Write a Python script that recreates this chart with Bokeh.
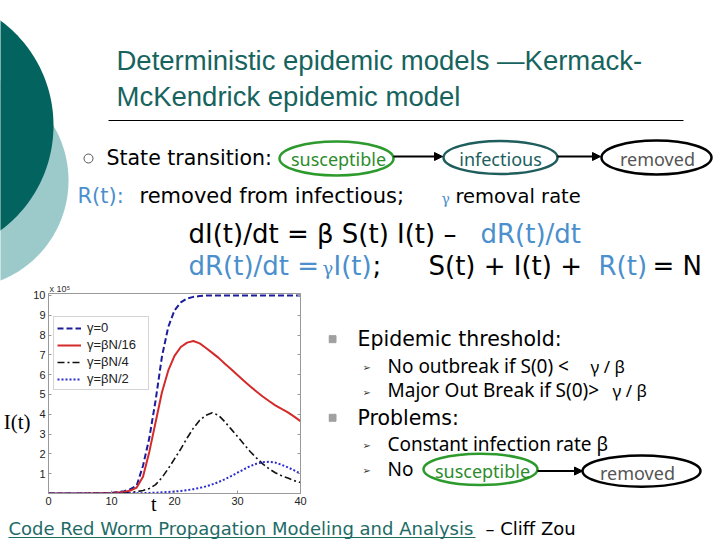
import numpy as np
from bokeh.plotting import figure
from bokeh.models import Range1d, FixedTicker, LinearAxis, Arrow, NormalHead
from bokeh.layouts import column, row
from bokeh.core.properties import value
from bokeh.embed import file_html
from bokeh.resources import INLINE

# ---------------- chart data ----------------
t = [0, 5, 10, 12, 13, 14, 15, 16, 17, 18, 19, 20, 21, 22, 23, 24, 25, 26, 27, 28,
     29, 30, 31, 32, 33, 34, 35, 36, 37, 38, 39, 40]
i_gamma0 = [0.0, 0.0, 0.03, 0.12, 0.22, 0.4, 1.4, 2.8, 4.7, 6.9, 8.4, 9.25, 9.65, 9.85,
            9.93, 9.97, 10.0, 10.0, 10.0, 10.0, 10.0, 10.0, 10.0, 10.0, 10.0, 10.0, 10.0,
            10.0, 10.0, 10.0, 10.0, 10.0]
i_gamma16 = [0.0, 0.0, 0.02, 0.08, 0.15, 0.3, 0.85, 2.1, 3.6, 5.1, 6.2, 6.95, 7.4, 7.62,
             7.7, 7.58, 7.35, 7.1, 6.85, 6.55, 6.27, 5.98, 5.7, 5.42, 5.15, 4.9, 4.67,
             4.45, 4.27, 4.1, 3.88, 3.65]
i_gamma4 = [0.0, 0.0, 0.0, 0.02, 0.05, 0.09, 0.15, 0.25, 0.45, 0.8, 1.25, 1.75, 2.25, 2.8,
            3.3, 3.7, 3.95, 4.08, 3.95, 3.62, 3.25, 2.88, 2.5, 2.12, 1.8, 1.5, 1.25, 1.05,
            0.9, 0.78, 0.65, 0.55]
i_gamma2 = [0.0, 0.0, 0.0, 0.0, 0.01, 0.01, 0.02, 0.03, 0.04, 0.06, 0.08, 0.1, 0.13, 0.17,
            0.22, 0.28, 0.36, 0.46, 0.58, 0.72, 0.88, 1.05, 1.22, 1.38, 1.5, 1.58, 1.6,
            1.56, 1.45, 1.32, 1.17, 1.0]
series_labels = ["\u03b3=0", "\u03b3=\u03b2N/16", "\u03b3=\u03b2N/4", "\u03b3=\u03b2N/2"]
x_ticks = [0, 10, 20, 30, 40]
y_ticks = [1, 2, 3, 4, 5, 6, 7, 8, 9, 10]
x_title = "t"
y_title = "I(t)"
scale_note = "x 10\u2075"

BLUE_TXT = "#4b8fcc"
TEAL = "#17635e"


def txt(p, x, y, s, size, color="black", font="DejaVu Sans", align="left"):
    # y is the wanted baseline; the glyph is drawn around the middle of the line
    px = float(size.replace("px", ""))
    p.text(x=[x], y=[y - 0.34 * px], text=[s], text_font=value(font),
           text_font_size=size, text_color=color, text_align=align,
           text_baseline="alphabetic")


def blank(x0, x1, y0, y1):
    p = figure(width=x1 - x0, height=y1 - y0, x_range=Range1d(x0, x1),
               y_range=Range1d(y1, y0), min_border=0, toolbar_location=None,
               output_backend="svg", x_axis_location=None, y_axis_location=None,
               tools="")
    p.grid.visible = False
    p.outline_line_color = None
    p.background_fill_color = "white"
    p.border_fill_color = "white"
    return p


def arrow(p, x0, y0, x1, y1):
    p.add_layout(Arrow(end=NormalHead(size=8, fill_color="black", line_color="black"),
                       x_start=x0, y_start=y0, x_end=x1, y_end=y1,
                       line_color="black", line_width=2))


# ---------------- top part of the slide ----------------
top = blank(0, 720, 0, 281)
ang = np.linspace(0, 2 * np.pi, 240)
top.patch(-39.5 + 107.5 * np.cos(ang), 180 + 107.5 * np.sin(ang), color="#9ccaca",
          line_color=None)
top.patch(-77.5 + 130.5 * np.cos(ang), 125 + 130.5 * np.sin(ang), color="#03635f",
          line_color=None)
txt(top, 116, 69, "Deterministic epidemic models \u2014Kermack-", "27.5px", TEAL,
    "Liberation Sans")
txt(top, 116, 105, "McKendrick epidemic model", "27.5px", TEAL, "Liberation Sans")
top.segment(x0=[108], y0=[120], x1=[683], y1=[120], line_color="black", line_width=1)

top.scatter(x=[88], y=[158], marker="circle", size=9, fill_color=None,
            line_color="#555555", line_width=1)
txt(top, 106, 164, "State transition:", "20.5px")
top.ellipse(x=[336], y=[158], width=[114], height=[34], fill_color=None,
            line_color="#2c9a2c", line_width=2.5)
txt(top, 338, 165, "susceptible", "18px", "#2c8c2c", "Noto Sans", "center")
top.ellipse(x=[500], y=[157], width=[114], height=[33], fill_color=None,
            line_color="#205e5e", line_width=2.5)
txt(top, 500, 165, "infectious", "18px", "#205e5e", "Noto Sans", "center")
top.ellipse(x=[656], y=[157], width=[110], height=[34], fill_color=None,
            line_color="black", line_width=2.5)
txt(top, 657, 165, "removed", "18px", "#555555", "Noto Sans", "center")
arrow(top, 393, 156, 442, 156)
arrow(top, 557, 156, 600, 156)

txt(top, 77, 203, "R(t):", "21px", BLUE_TXT)
txt(top, 139, 203, "removed from infectious;", "21px")
txt(top, 441, 203, "\u03b3", "14px", BLUE_TXT, "DejaVu Serif")
txt(top, 455, 203, "removal rate", "19.5px")

txt(top, 188, 242, "dI(t)/dt = \u03b2 S(t) I(t) \u2013", "26px")
txt(top, 480, 242, "dR(t)/dt", "26px", BLUE_TXT)
txt(top, 188, 274, "dR(t)/dt =", "26px", BLUE_TXT)
txt(top, 322, 274, "\u03b3", "18px", BLUE_TXT, "DejaVu Serif")
txt(top, 333, 274, "I(t)", "26px", BLUE_TXT)
txt(top, 372, 274, ";", "26px")
txt(top, 428, 274, "S(t) + I(t) +", "26px")
txt(top, 598, 274, "R(t)", "26px", BLUE_TXT)
txt(top, 652, 274, "= N", "26px")

# ---------------- chart ----------------
chart = figure(frame_width=252, frame_height=200, x_range=Range1d(0, 40),
               y_range=Range1d(0, 10.1), min_border_left=48, min_border_right=28,
               min_border_top=9, min_border_bottom=24, toolbar_location=None,
               output_backend="svg", tools="")
chart.grid.visible = False
chart.outline_line_color = "#999999"
chart.background_fill_color = "white"
chart.border_fill_color = "white"

chart.line(t, i_gamma0, line_color="#1c1c9c", line_width=2, line_dash="6 3",
           legend_label=series_labels[0])
chart.line(t, i_gamma16, line_color="#d42a2a", line_width=2,
           legend_label=series_labels[1])
chart.line(t, i_gamma4, line_color="#111111", line_width=1.6, line_dash="7 3 2 3",
           legend_label=series_labels[2])
chart.line(t, i_gamma2, line_color="#2a2ad0", line_width=2, line_dash="2 2",
           legend_label=series_labels[3])

for ax in (chart.xaxis[0], chart.yaxis[0]):
    ax.axis_line_color = "#999999"
    ax.major_tick_line_color = "#999999"
    ax.major_tick_in = 3
    ax.major_tick_out = 0
    ax.minor_tick_line_color = None
    ax.major_label_text_font = "Liberation Sans"
    ax.major_label_text_font_size = "11px"
    ax.major_label_text_color = "#222222"
    ax.major_label_standoff = 3
chart.xaxis.ticker = FixedTicker(ticks=x_ticks)
chart.yaxis.ticker = FixedTicker(ticks=y_ticks)

# mirrored ticks on the right edge (box like the original)
rax = LinearAxis(ticker=FixedTicker(ticks=y_ticks), major_label_text_font_size="0px",
                 major_label_text_alpha=0, major_label_standoff=0,
                 major_tick_in=3, major_tick_out=0, minor_tick_line_color=None,
                 axis_line_color="#999999", major_tick_line_color="#999999")
chart.add_layout(rax, "right")

# axis titles placed like the slide's own labels
lab_y = LinearAxis(ticker=FixedTicker(ticks=[3.6]), major_label_overrides={3.6: y_title},
                   axis_line_color=None, major_tick_line_color=None,
                   minor_tick_line_color=None, major_tick_in=0, major_tick_out=0,
                   major_label_text_font="Liberation Serif",
                   major_label_text_font_size="21px", major_label_text_color="black",
                   major_label_standoff=0)
chart.add_layout(lab_y, "left")
lab_x = LinearAxis(ticker=FixedTicker(ticks=[16.7]), major_label_overrides={16.7: x_title},
                   axis_line_color=None, major_tick_line_color=None,
                   minor_tick_line_color=None, major_tick_in=0, major_tick_out=0,
                   major_label_text_font="Liberation Serif",
                   major_label_text_font_size="20px", major_label_text_color="black",
                   major_label_standoff=-15)
chart.add_layout(lab_x, "below")

chart.title.text = scale_note
chart.title.align = "left"
chart.title.offset = 1
chart.title.standoff = 0
chart.title.text_font = "Liberation Sans"
chart.title.text_font_size = "9px"
chart.title.text_font_style = "normal"
chart.title.text_color = "#333333"

lg = chart.legend[0]
lg.location = (5, 103)
lg.label_text_font = "Liberation Sans"
lg.label_text_font_size = "13px"
lg.label_text_color = "#222222"
lg.glyph_width = 24
lg.glyph_height = 12
lg.label_height = 12
lg.label_width = 58
lg.spacing = 2
lg.padding = 3
lg.margin = 0
lg.label_standoff = 6
lg.border_line_color = "#aaaaaa"
lg.background_fill_alpha = 1.0

# ---------------- right column ----------------
right = blank(328, 720, 281, 514)
right.scatter(x=[332, 332], y=[335, 428], marker="square", size=7, color="#a0a0a0")
txt(right, 357, 342, "Epidemic threshold:", "20.5px")
txt(right, 362, 372, "\u27a2", "10px", "#333333")
txt(right, 387, 373, "No outbreak if S(0) <", "19px", "black", "Noto Sans")
txt(right, 590, 373, "\u03b3 / \u03b2", "17px", "black", "Noto Sans")
txt(right, 362, 401, "\u27a2", "10px", "#333333")
txt(right, 387, 402, "Major Out Break if S(0)>", "19px", "black", "Noto Sans")
txt(right, 612, 402, "\u03b3 / \u03b2", "17px", "black", "Noto Sans")
txt(right, 357, 435, "Problems:", "20.5px")
txt(right, 362, 464, "\u27a2", "10px", "#333333")
txt(right, 387, 465, "Constant infection rate \u03b2", "19px", "black", "Noto Sans")
txt(right, 362, 494, "\u27a2", "10px", "#333333")
txt(right, 387, 495, "No", "19px", "black", "Noto Sans")
right.ellipse(x=[480], y=[489], width=[114], height=[37], fill_color=None,
              line_color="#2c9a2c", line_width=2.5)
txt(right, 482, 497, "susceptible", "18px", "#2c8c2c", "Noto Sans", "center")
arrow(right, 537, 491, 582, 491)
right.ellipse(x=[641], y=[491], width=[118], height=[37], fill_color=None,
              line_color="black", line_width=2.5)
txt(right, 637, 499, "removed", "18px", "#555555", "Noto Sans", "center")

# ---------------- footer ----------------
bottom = blank(0, 720, 514, 540)
txt(bottom, 8, 531, "Code Red Worm Propagation Modeling and Analysis", "18px", "#1e6b66")
bottom.segment(x0=[8], y0=[534], x1=[475], y1=[534], line_color="#1e6b66", line_width=1)
txt(bottom, 485, 531, "\u2013 Cliff Zou", "18px")

page = column(top, row(chart, right), bottom)
open("out.html", "w").write(file_html(page, INLINE))
